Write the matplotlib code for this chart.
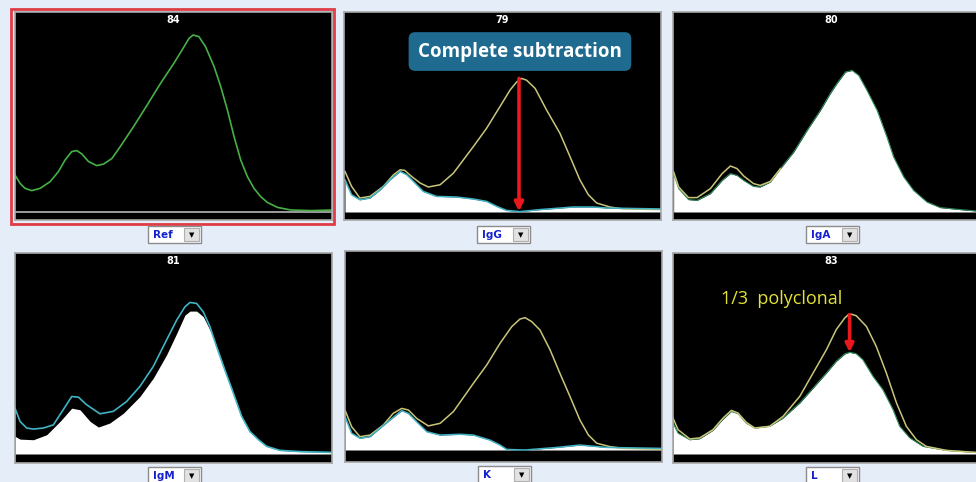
import numpy as np
import matplotlib
matplotlib.use("Agg")
import matplotlib.pyplot as plt
from matplotlib.patches import Rectangle

# ---- densitometry traces ----
# x = mobility (% of panel width), y = height (% of panel height above baseline)

# Ref panel (84)
ref_x = [0, 1.6, 3.2, 5.3, 7.9, 11.1, 13.7, 15.8, 17.9, 19.5, 21.1, 23.2, 25.8, 28, 30.6,
         33.2, 37.4, 41.7, 45.9, 50.1, 52.7, 54.9, 56.2, 58, 60.1, 62.8, 64.9, 67, 69.1,
         71.2, 73.3, 75.4, 77.5, 79.6, 82.8, 87, 93.4, 100.2]
ref_y = [18.5, 14.3, 11.8, 10.7, 11.8, 15.2, 20.2, 26, 30.2, 30.7, 29, 25.2, 23.2, 24, 26.8,
         32.7, 42.7, 53.5, 64.3, 74.3, 81, 86.8, 88.5, 87.7, 82.7, 72.7, 62.7, 51, 37.7,
         26, 17.7, 11.8, 7.7, 4.8, 2.3, 1, 0.7, 1]

# IgG panel (79)
igg_ref_x = [0.3, 2.4, 5, 8.2, 12.4, 15.6, 17.7, 19.2, 21.3, 24, 26.6, 30.3, 34.5, 40.8, 45,
             49.2, 52.4, 54.5, 56, 57.6, 60.3, 63.9, 68.1, 71.3, 74.4, 77.1, 79.7, 83.9, 88.1, 100.2]
igg_ref_y = [20.3, 12.8, 7, 7.8, 12.8, 18.6, 21.1, 20.8, 17.8, 14.5, 12.5, 13.6, 19.4, 32.7, 41.9,
             52.7, 61, 65.1, 66.8, 65.9, 61.8, 51, 39.4, 27.7, 16.1, 8.6, 4.5, 2.5, 1.5, 1.2]
igg_x = [0.3, 2.4, 5, 8.2, 11.4, 14.5, 17.7, 19.8, 21.9, 25, 29.2, 35.5, 40.8, 45, 48.2,
         51.3, 55.5, 61.8, 72.3, 78.7, 82.9, 100.2]
igg_y = [16.1, 8.6, 6.1, 7, 11.1, 16.1, 20.3, 18.6, 15.3, 10.3, 7.8, 7.5, 6.5, 5.3, 2.8,
         0.8, 0.2, 1.2, 2.5, 2.5, 2, 1.5]

# IgA panel (80)
iga_x = [0.2, 1.8, 4.9, 7.6, 11.8, 15.5, 18.1, 20.2, 22.3, 25.4, 27.5, 30.7, 33.9, 38.1, 42.3,
         46.5, 49.6, 51.7, 54.4, 56.5, 58.6, 61.2, 64.4, 67.5, 69.6, 72.8, 75.9, 80.1, 84.3,
         90.6, 95.7, 100]
iga_y = [19.2, 11.7, 6.2, 5.8, 9.2, 15.8, 19.2, 18.3, 15.8, 12.8, 12.5, 15, 21.7, 30, 40.8,
         50.8, 59.2, 64.2, 70, 70.8, 68.3, 60.8, 50.8, 37.5, 27.5, 17.5, 10.8, 5, 2.2,
         1.2, 0.5, 0.5]
iga_ref_x = [0.2, 1.8, 4.9, 7.6, 11.8, 15.5, 18.1, 20.2, 22.3, 25.4, 27.5, 30.7, 33.9]
iga_ref_y = [20, 12.5, 7.2, 7.2, 11.7, 19.2, 23, 21.7, 18, 14.2, 13.3, 15.3, 21.7]

# IgM panel (81)
igm_ref_x = [0, 1.6, 3.7, 5.8, 8.9, 12.1, 15.2, 17.9, 20, 22.6, 26.8, 31, 35.2, 39.4, 43.6,
             47.8, 51, 53.6, 55.2, 57.3, 59.4, 61.5, 63.6, 66.2, 68.9, 71.5, 74.1, 76.8,
             79.4, 83.6, 89.9, 99.9]
igm_ref_y = [22.8, 16.2, 12.9, 12.4, 12.9, 14.5, 22, 28.6, 28.3, 24.5, 20, 21.2, 26.1, 33.6, 43.5,
             56.7, 66.6, 73.2, 75.4, 74.9, 70.7, 63.3, 53.4, 41.8, 30.2, 18.7, 11.2, 7.1,
             3.8, 1.8, 1.2, 0.8]
igm_x = [0, 1.6, 5.8, 10, 14.2, 17.9, 20.5, 23.7, 26.3, 29.9, 34.2, 39.4, 43.6, 47.8, 51,
         53.6, 55.2, 57.3, 59.4, 61.5, 63.6, 66.2, 68.9, 71.5, 74.1, 76.8, 79.4, 83.6, 89.9, 99.9]
igm_y = [8.8, 7.4, 7.1, 9.6, 16.2, 22.8, 22, 16.2, 13.4, 15.4, 20.3, 28.6, 37.7, 49.3, 60,
         69.1, 71.1, 71.1, 68.3, 61.7, 53.4, 41.8, 30.2, 18.7, 11.2, 7.1, 3.8, 1.8, 1.2, 0.8]

# Kappa panel
k_ref_x = [0, 2.1, 4.7, 7.9, 12.1, 15.2, 17.9, 20, 22.6, 26.3, 30, 34.2, 40.5, 44.7, 48.9,
           52.6, 55.2, 56.8, 58.9, 61.5, 64.7, 67.8, 71, 74.1, 76.8, 79.4, 83.6, 87.8, 99.9]
k_ref_y = [20.1, 11.7, 6.7, 7.5, 12.6, 18.4, 20.9, 20.1, 15.9, 12.1, 13.4, 19.3, 33.5, 42.7, 53.6,
           62, 65.8, 66.5, 64.5, 60.3, 50.3, 38.5, 26.8, 15.1, 7.5, 3.4, 1.7, 0.8, 0.3]
k_x = [0, 2.1, 4.7, 7.9, 11, 14.2, 17.9, 20, 22.6, 25.8, 30, 36.3, 40.5, 45.7, 48.9,
       51, 56.8, 66.8, 74.1, 82.5, 99.9]
k_y = [16.8, 8.4, 5.9, 6.7, 10.9, 15.1, 19.8, 18.4, 14.2, 9.2, 7.5, 7.9, 7.5, 5, 2.5,
       0.3, 0, 1.3, 2.5, 1.3, 0.8]

# Lambda panel (83)
l_ref_x = [0, 1.6, 5.3, 8.4, 12.6, 15.8, 18.4, 20.5, 23.1, 25.8, 30.5, 34.7, 40, 44.2, 48.4,
           51.5, 54.2, 55.7, 57.8, 61, 64.1, 67.3, 70.5, 73.6, 76.8, 79.9, 86.2, 95.5, 100]
l_ref_y = [17.9, 12.1, 7.5, 8, 12.1, 17.9, 21.7, 20.4, 15.8, 12.9, 13.8, 18.7, 28.7, 40.3, 51.9,
           61.9, 67.7, 69.8, 68.8, 63.5, 53.6, 40.3, 25.4, 13.8, 7.1, 3.8, 1.8, 0.8, 0.8]
l_x = [0, 1.6, 5.3, 8.4, 12.6, 15.8, 18.4, 20.5, 23.1, 25.8, 30.5, 34.7, 40, 44.2, 48.4,
       51.5, 54.2, 55.7, 57.8, 59.9, 63.1, 66.2, 69.4, 71.5, 74.7, 78.9, 86.2, 95.5, 100]
l_y = [15.4, 10.4, 7.1, 7.6, 11.8, 17.4, 21.2, 20.1, 15.4, 12.9, 13.8, 17.9, 25.4, 32.8, 40.3,
       46.1, 49.8, 50.6, 49.9, 46.9, 38.6, 32, 22.1, 13.8, 8, 3.8, 1.8, 0.8, 0.8]

panel_numbers = ["84", "79", "80", "81", "", "83"]
selector_labels = ["Ref", "IgG", "IgA", "IgM", "K", "L"]

GREEN = "#46b046"
YELLOW = "#c9c67a"
CYAN = "#3fb3c4"
EDGE = "#2f8a5a"

W, H = 976, 482
fig = plt.figure(figsize=(W / 100, H / 100), dpi=100)
fig.patch.set_facecolor("#e5edf9")

# background layer in pixel coords for widgets / frame
bg = fig.add_axes([0, 0, 1, 1], zorder=0)
bg.set_xlim(0, W)
bg.set_ylim(H, 0)
bg.axis("off")


def px_axes(x0, y0, x1, y1):
    return fig.add_axes([x0 / W, 1 - y1 / H, (x1 - x0) / W, (y1 - y0) / H], zorder=2)


# panel boxes: (left, top, right, bottom, baseline) in pixels
boxes = [(15, 12, 332, 220, 212), (344, 12, 661, 220, 212), (673, 12, 990, 220, 212),
         (15, 253, 332, 463, 454), (345, 251, 662, 462, 450), (673, 253, 990, 463, 454)]

axes = []
for (x0, y0, x1, y1, base), num in zip(boxes, panel_numbers):
    ax = px_axes(x0, y0, x1, y1)
    ax.set_facecolor("black")
    bottom = -(y1 - base) / (base - y0) * 100
    ax.set_xlim(0, 100)
    ax.set_ylim(bottom, 100)
    ax.set_xticks([])
    ax.set_yticks([])
    for s in ax.spines.values():
        s.set_color("#a8a8a8")
        s.set_linewidth(1.2)
    if num:
        ax.text(0.5, 0.96, num, transform=ax.transAxes, color="white", fontsize=7,
                fontweight="bold", ha="center", va="center")
    axes.append(ax)

# red selection frame around the reference panel
bg.add_patch(Rectangle((10.5, 8.5), 323, 215, fill=False, edgecolor="#e03c46", lw=2))

# Ref
a = axes[0]
a.axhline(0, color="#a8a8a8", lw=1.3)
a.plot(ref_x, ref_y, color=GREEN, lw=1.2)

# IgG
a = axes[1]
a.fill_between(igg_x, 0, igg_y, color="white", lw=0)
a.plot(igg_ref_x, igg_ref_y, color=YELLOW, lw=1.1)
a.plot(igg_x, igg_y, color=CYAN, lw=1.1)
pk = int(np.argmax(igg_ref_y))
a.annotate("", xy=(igg_ref_x[pk] - 0.8, 0.3), xytext=(igg_ref_x[pk] - 0.8, igg_ref_y[pk]),
           arrowprops=dict(arrowstyle="-|>", color="#e8181c", lw=2.6, mutation_scale=13,
                           shrinkA=0, shrinkB=0))
a.text(0.555, 0.81, "Complete subtraction", transform=a.transAxes, color="white",
       fontsize=13.5, fontweight="bold", family="Open Sans", ha="center", va="center",
       bbox=dict(boxstyle="round,pad=0.5,rounding_size=0.35", facecolor="#1f6a8f",
                 edgecolor="none"))

# IgA
a = axes[2]
a.fill_between(iga_x, 0, iga_y, color="white", lw=0)
a.plot(iga_x, iga_y, color=EDGE, lw=0.8)
a.plot(iga_ref_x, iga_ref_y, color=YELLOW, lw=1.1)

# IgM
a = axes[3]
a.fill_between(igm_x, 0, igm_y, color="white", lw=0)
a.plot(igm_ref_x, igm_ref_y, color=CYAN, lw=1.2)

# Kappa
a = axes[4]
a.fill_between(k_x, 0, k_y, color="white", lw=0)
a.plot(k_ref_x, k_ref_y, color=YELLOW, lw=1.1)
a.plot(k_x, k_y, color=CYAN, lw=1.1)

# Lambda
a = axes[5]
a.fill_between(l_x, 0, l_y, color="white", lw=0)
a.plot(l_x, l_y, color=EDGE, lw=0.8)
a.plot(l_ref_x, l_ref_y, color=YELLOW, lw=1.1)
pk = int(np.argmax(l_ref_y))
a.annotate("", xy=(l_ref_x[pk], max(l_y)), xytext=(l_ref_x[pk], l_ref_y[pk] - 0.5),
           arrowprops=dict(arrowstyle="-|>", color="#e8181c", lw=2.6, mutation_scale=12,
                           shrinkA=0, shrinkB=0))
a.text(0.152, 0.78, "1/3  polyclonal", transform=a.transAxes, color="#e4e236",
       fontsize=13, family="Open Sans", ha="left", va="center")

# drop-down selectors under each panel
for (x0, y0, x1, y1, base), lab in zip(boxes, selector_labels):
    cx = (x0 + min(x1, 990)) / 2 + 0.5
    top = y1 + 6 if y1 < 300 else y1 + 4
    bx = cx - 26
    bg.add_patch(Rectangle((bx, top), 53, 17, facecolor="white", edgecolor="#8c8c8c", lw=1))
    bg.add_patch(Rectangle((bx + 36, top + 2), 15, 13, facecolor="#e2e2e2", edgecolor="#b0b0b0", lw=0.8))
    bg.text(bx + 43.5, top + 9, "\u25bc", fontsize=5, ha="center", va="center", color="black")
    bg.text(bx + 5, top + 9, lab, fontsize=7.5, fontweight="bold", color="#1420d0",
            ha="left", va="center")

fig.savefig("out.png", dpi=100, facecolor=fig.get_facecolor())
